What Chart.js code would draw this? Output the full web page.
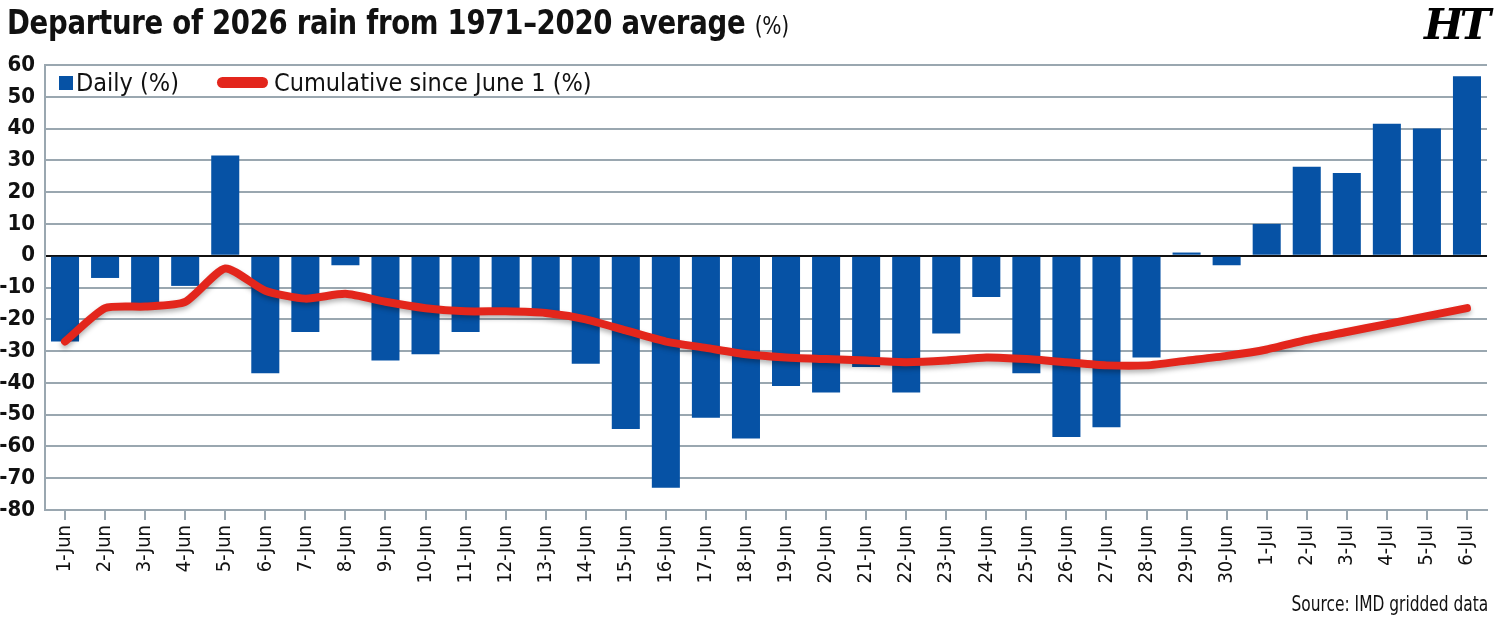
<!DOCTYPE html>
<html>
<head>
<meta charset="utf-8">
<script src="https://cdn.jsdelivr.net/npm/chart.js@4.4.1/dist/chart.umd.min.js"></script>
<style>
  html, body { margin: 0; padding: 0; background: #fff; }
  #wrap { position: relative; width: 1500px; height: 626px; overflow: hidden; }
  #chart { position: absolute; left: 0; top: 0; }
  .cond { font-family: "Liberation Sans Narrow", "DejaVu Sans Condensed", sans-serif; color: #111; }
  #title { position: absolute; left: 7px; top: 2px; font-size: 34px; font-weight: bold; white-space: nowrap; letter-spacing: -0.3px; transform: scaleX(0.9); transform-origin: left top; }
  #title span { font-weight: normal; font-size: 25px; }
  #logo { position: absolute; left: 1424px; top: 0px; font-family: "DejaVu Serif", serif; font-weight: bold; font-style: italic; font-size: 42px; color: #000; letter-spacing: -4px; }
  #legend { position: absolute; left: 59px; top: 68px; font-size: 25px; white-space: nowrap; }
  #legend .sq { display: inline-block; width: 14px; height: 14px; background: #0652a5; vertical-align: 1px; margin-right: 3px; }
  #legend .ln { display: inline-block; width: 51px; height: 11px; border-radius: 6px; background: #e3261c; vertical-align: 3px; margin-left: 38px; margin-right: 6px; }
  #source { position: absolute; right: 12px; top: 591px; font-size: 22px; white-space: nowrap; transform: scaleX(0.78); transform-origin: right top; }
</style>
</head>
<body>
<div id="wrap">
  <canvas id="chart" width="1500" height="626"></canvas>
  <div id="title" class="cond">Departure of 2026 rain from 1971–2020 average <span>(%)</span></div>
  <div id="logo">HT</div>
  <div id="legend" class="cond"><span class="sq"></span>Daily (%)<span class="ln"></span>Cumulative since June 1 (%)</div>
  <div id="source" class="cond">Source: IMD gridded data</div>
</div>
<script>
// dates on the x axis
var days = ['1-Jun', '2-Jun', '3-Jun', '4-Jun', '5-Jun', '6-Jun', '7-Jun', '8-Jun', '9-Jun', '10-Jun',
    '11-Jun', '12-Jun', '13-Jun', '14-Jun', '15-Jun', '16-Jun', '17-Jun', '18-Jun', '19-Jun', '20-Jun',
    '21-Jun', '22-Jun', '23-Jun', '24-Jun', '25-Jun', '26-Jun', '27-Jun', '28-Jun', '29-Jun', '30-Jun',
    '1-Jul', '2-Jul', '3-Jul', '4-Jul', '5-Jul', '6-Jul'];

// daily departure (%)
var daily = [-27, -7, -15.5, -9.5, 31.5, -37, -24, -3, -33, -31,
    -24, -18, -18, -34, -54.5, -73, -51, -57.5, -41, -43,
    -35, -43, -24.5, -13, -37, -57, -54, -32, 1, -3,
    10, 28, 26, 41.5, 40, 56.5];

// cumulative departure since June 1 (%)
var cumulative = [-27, -16.5, -16, -14.5, -4, -11, -13.5, -12, -14.5, -16.5,
    -17.5, -17.5, -18, -20, -23.5, -27, -29, -31, -32, -32.5,
    -33, -33.5, -33, -32, -32.5, -33.5, -34.5, -34.5, -33, -31.5,
    -29.5, -26.5, -24, -21.5, -19, -16.5];

var yTicks = [60, 50, 40, 30, 20, 10, 0, -10, -20, -30, -40, -50, -60, -70, -80];

var FONT = '"Liberation Sans Narrow", "DejaVu Sans Condensed", sans-serif';
var GRID = '#9aa7b0';

// soft shadow under the red line
var lineShadow = {
    id: 'lineShadow',
    beforeDatasetDraw: function(chart, args) {
        if (args.meta.type !== 'line') return;
        var ctx = chart.ctx;
        ctx.save();
        ctx.shadowColor = 'rgba(0,0,0,0.3)';
        ctx.shadowBlur = 5;
        ctx.shadowOffsetY = 3;
    },
    afterDatasetDraw: function(chart, args) {
        if (args.meta.type !== 'line') return;
        chart.ctx.restore();
    }
};

var ctx = document.getElementById('chart').getContext('2d');
var chart = new Chart(ctx, {
    type: 'bar',
    data: {
        labels: days,
        datasets: [{
            type: 'line',
            label: 'Cumulative since June 1 (%)',
            data: cumulative,
            borderColor: '#e3261c',
            borderWidth: 8,
            tension: 0.2,
            pointRadius: 0,
            borderCapStyle: 'round',
            borderJoinStyle: 'round',
            order: 0
        }, {
            label: 'Daily (%)',
            data: daily,
            backgroundColor: '#0652a5',
            barPercentage: 0.7,
            categoryPercentage: 1,
            order: 1
        }]
    },
    options: {
        responsive: false,
        animation: false,
        layout: { padding: { top: 65, right: 13, left: 0, bottom: 0 } },
        plugins: {
            legend: { display: false },
            tooltip: { enabled: false }
        },
        scales: {
            x: {
                afterFit: function(scale) { scale.height = 116; },
                grid: {
                    offset: false,
                    drawOnChartArea: false,
                    color: GRID,
                    lineWidth: 2,
                    tickLength: 10
                },
                border: { color: GRID, width: 2 },
                ticks: {
                    minRotation: 90,
                    maxRotation: 90,
                    autoSkip: false,
                    padding: 5,
                    color: '#111',
                    font: { family: FONT, size: 20 }
                }
            },
            y: {
                min: -80,
                max: 60,
                afterFit: function(scale) { scale.width = 45; },
                afterBuildTicks: function(scale) {
                    scale.ticks = yTicks.map(function(v) { return { value: v }; });
                },
                grid: {
                    drawTicks: false,
                    lineWidth: 2,
                    color: function(c) { return c.tick && c.tick.value === 0 ? '#111' : GRID; }
                },
                border: { color: GRID, width: 2 },
                ticks: {
                    padding: 10,
                    color: '#111',
                    font: { family: FONT, size: 22, weight: 'bold' }
                }
            }
        }
    },
    plugins: [lineShadow]
});
</script>
</body>
</html>
